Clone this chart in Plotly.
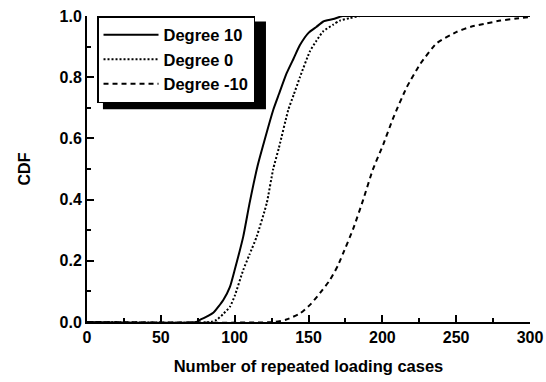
import plotly.graph_objects as go

# Data
deg10_x = [0, 74, 76.5, 80, 85.5, 92.3, 96.8, 100, 105.8, 110, 115.5, 120, 126.1, 130, 135.2, 140, 144.2, 150, 155.5, 160, 166.8, 173, 180, 300]
deg10_y = [0, 0, 0.007, 0.015, 0.03, 0.072, 0.115, 0.17, 0.279, 0.386, 0.51, 0.59, 0.693, 0.745, 0.813, 0.862, 0.905, 0.945, 0.965, 0.982, 0.99, 1.0, 1.0, 1.0]

deg0_x = [0, 84, 87.8, 92, 96.8, 100, 105.8, 110, 114.9, 121.7, 126.1, 130, 136.3, 140, 144.2, 151, 155.5, 160, 166.8, 171.3, 178, 185, 300]
deg0_y = [0, 0, 0.007, 0.025, 0.05, 0.085, 0.17, 0.22, 0.279, 0.388, 0.5, 0.57, 0.693, 0.743, 0.80, 0.885, 0.92, 0.95, 0.972, 0.985, 0.993, 1.0, 1.0]

degm10_x = [0, 127, 135, 144.2, 151, 157.7, 164.5, 170, 173.5, 180.3, 187, 193.5, 200.6, 207.4, 216.4, 225.5, 236.8, 250.3, 260, 270.6, 280, 290.9, 300]
degm10_y = [0, 0, 0.008, 0.028, 0.056, 0.094, 0.137, 0.185, 0.225, 0.305, 0.399, 0.497, 0.58, 0.667, 0.766, 0.842, 0.911, 0.948, 0.965, 0.976, 0.985, 0.992, 0.997]

series_names = ["Degree 10", "Degree 0", "Degree -10"]
x_ticks = [0, 50, 100, 150, 200, 250, 300]
y_ticks = [0.0, 0.2, 0.4, 0.6, 0.8, 1.0]

FONT = "Liberation Sans"

fig = go.Figure()
for xs, ys, name, dash in [
    (deg10_x, deg10_y, series_names[0], "solid"),
    (deg0_x, deg0_y, series_names[1], "2px,2px"),
    (degm10_x, degm10_y, series_names[2], "5px,4px"),
]:
    fig.add_trace(go.Scatter(
        x=xs, y=ys, name=name, mode="lines",
        line=dict(color="black", width=2, dash=dash, shape="spline", smoothing=0.5),
    ))

axis_common = dict(
    showgrid=False, zeroline=False, showline=True, linecolor="black", linewidth=2,
    ticks="inside", ticklen=7, tickwidth=2, tickcolor="black",
    tickfont=dict(family=FONT, size=16, color="black", weight=700),
    mirror=False, automargin=False,
)

fig.update_xaxes(
    range=[0, 300], tickvals=x_ticks, ticktext=[str(v) for v in x_ticks],
    minor=dict(dtick=25, ticks="inside", ticklen=4, tickwidth=2, tickcolor="black", tick0=0),
    title=dict(text="Number of repeated loading cases", standoff=15,
               font=dict(family=FONT, size=16.5, color="black", weight=700)),
    **axis_common,
)
fig.update_yaxes(
    range=[0, 1.0], tickvals=y_ticks, ticktext=[f"{v:.1f}" for v in y_ticks],
    minor=dict(dtick=0.1, ticks="inside", ticklen=4, tickwidth=2, tickcolor="black", tick0=0),
    title=dict(text="CDF", standoff=25,
               font=dict(family=FONT, size=16, color="black", weight=700)),
    **axis_common,
)

# drop shadow behind the legend box
fig.add_shape(type="rect", xref="paper", yref="paper",
              x0=0.036, x1=0.404, y0=0.695, y1=0.982,
              fillcolor="black", line=dict(width=0), layer="above")

fig.update_layout(
    width=546, height=382,
    margin=dict(l=87, r=16, t=16, b=60),
    paper_bgcolor="white", plot_bgcolor="white",
    showlegend=True, hovermode=False,
    legend=dict(
        x=0.0226, y=1.0, xanchor="left", yanchor="top",
        bgcolor="white", bordercolor="black", borderwidth=1.5,
        font=dict(family=FONT, size=16.5, color="black", weight=700),
        itemwidth=55,
    ),
)

fig.write_html("out.html", config={"displayModeBar": False, "staticPlot": True},
               post_script="document.body.style.margin='0';document.body.style.overflow='hidden';")
